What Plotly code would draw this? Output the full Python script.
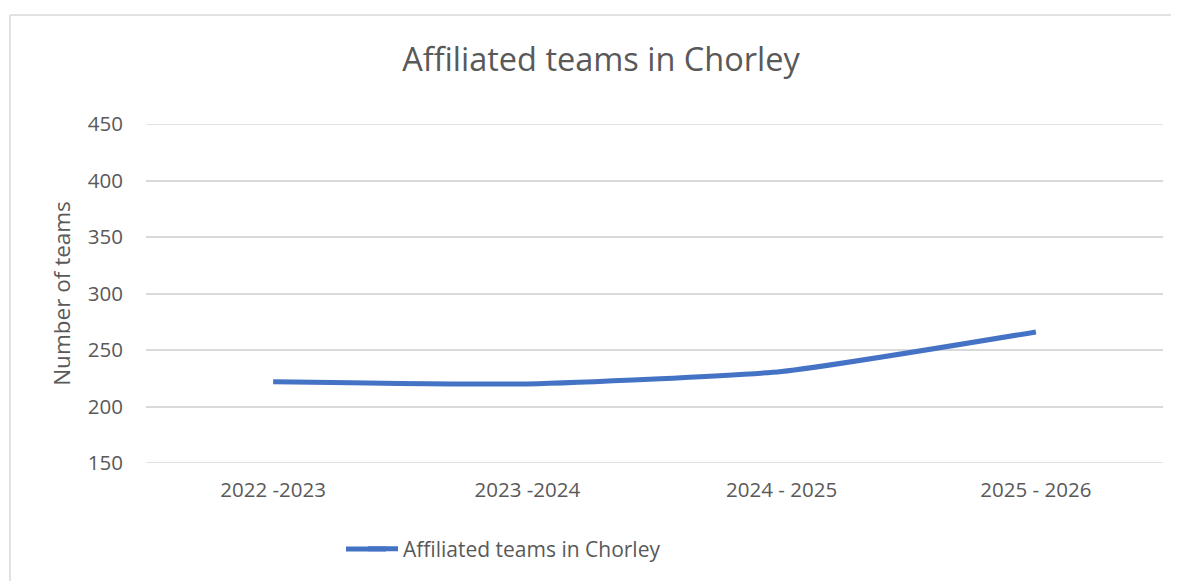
import plotly.graph_objects as go

seasons = ["2022 -2023", "2023 -2024", "2024 - 2025", "2025 - 2026"]
teams = [222, 220, 231, 266]
y_ticks = [150, 200, 250, 300, 350, 400, 450]

# page has an 8px body margin, so the figure is drawn 8px in from the corner
W, H = 1171, 573
L, R, T, B = 138, 16, 116, 118
pw, ph = W - L - R, H - T - B

TXT = "#595959"
GRID = "#D9D9D9"
BLUE = "#4472C4"
FONT = "Open Sans, Noto Sans, sans-serif"

fig = go.Figure()
fig.add_trace(go.Scatter(
    x=seasons, y=teams,
    mode="lines",
    name="Affiliated teams in Chorley",
    line=dict(color=BLUE, width=5, shape="spline", smoothing=0.5),
))

# edge gridlines (plotly drops the ones sitting on the plot border)
for v in (y_ticks[0], y_ticks[-1]):
    fig.add_shape(type="line", xref="paper", yref="y", x0=0, x1=1, y0=v, y1=v,
                  line=dict(color=GRID, width=1.5), layer="below")

# outer chart border: only top and left edges are visible in the crop
bx0 = (2 - L) / pw
by1 = (T + ph - 7) / ph
fig.add_shape(type="line", xref="paper", yref="paper",
              x0=bx0, x1=(W + 30 - L) / pw, y0=by1, y1=by1,
              line=dict(color=GRID, width=1.5), layer="below")
fig.add_shape(type="line", xref="paper", yref="paper",
              x0=bx0, x1=bx0, y0=-(H + 30 - (T + ph)) / ph, y1=by1,
              line=dict(color=GRID, width=1.5), layer="below")

# longer legend stroke, like Excel's
leg_y = -(541 - (T + ph)) / ph
fig.add_shape(type="line", xref="paper", yref="paper",
              x0=(338 - L) / pw, x1=(378 - L) / pw, y0=leg_y, y1=leg_y,
              line=dict(color=BLUE, width=5))

fig.update_layout(
    width=W, height=H,
    margin=dict(l=L, r=R, t=T, b=B),
    paper_bgcolor="white", plot_bgcolor="white",
    font=dict(family=FONT, color=TXT, size=20),
    title=dict(
        text="Affiliated teams in Chorley",
        x=593 / W, xanchor="center", y=1 - 52 / H, yanchor="middle",
        font=dict(size=32.5, color=TXT, family=FONT),
    ),
    xaxis=dict(
        type="category", range=[-0.5, 3.5],
        showgrid=False, zeroline=False, showline=False,
        ticks="", ticklabelstandoff=12,
        tickfont=dict(size=20.5, color=TXT),
    ),
    yaxis=dict(
        range=[150, 450], tickvals=y_ticks,
        gridcolor=GRID, gridwidth=1.5,
        zeroline=False, showline=False, ticks="",
        ticklabelstandoff=22,
        tickfont=dict(size=20.5, color=TXT),
        title=dict(text="Number of teams", font=dict(size=22.5, color=TXT), standoff=10),
    ),
    showlegend=True,
    legend=dict(
        orientation="h",
        x=(355 - L) / pw, xanchor="left",
        y=leg_y, yanchor="middle",
        font=dict(size=21, color=TXT),
        bgcolor="rgba(0,0,0,0)",
    ),
)

fig.write_html("out.html")
